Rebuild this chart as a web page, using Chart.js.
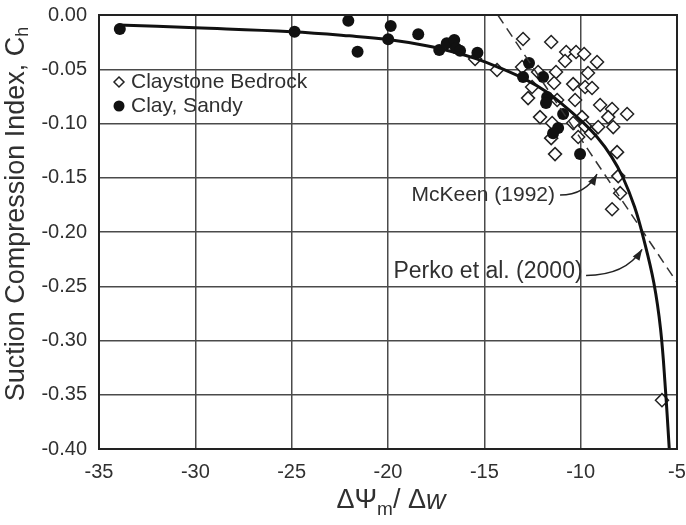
<!DOCTYPE html>
<html>
<head>
<meta charset="utf-8">
<title>Suction Compression Index</title>
<script src="https://cdn.jsdelivr.net/npm/chart.js@4.4.0/dist/chart.umd.min.js"></script>
<style>
  body { margin: 0; background: #fff; }
  #wrap { width: 686px; height: 525px; }
</style>
</head>
<body>
<div id="wrap"><canvas id="myChart" width="686" height="525"></canvas></div>
<script>
// Claystone bedrock samples (open diamonds)
var claystoneX = [-15.48, -14.34, -12.99, -11.53, -10.75, -10.24, -9.82, -9.15, -13.04, -12.21,
                  -11.28, -10.81, -9.62, -12.52, -12.73, -11.38, -11.22, -10.39, -10.29, -9.77,
                  -9.41, -8.99, -8.37, -7.59, -8.57, -8.31, -12.11, -9.93, -10.39, -9.77,
                  -9.09, -11.48, -9.46, -10.13, -11.53, -11.33, -8.11, -8.05, -7.95, -8.37, -5.78];
var claystoneY = [-0.0406, -0.0507, -0.0221, -0.0249, -0.0341, -0.0341, -0.036, -0.0434, -0.048, -0.0526,
                  -0.0526, -0.0424, -0.0535, -0.0664, -0.0766, -0.0627, -0.0784, -0.0637, -0.0784, -0.0664,
                  -0.0673, -0.083, -0.0867, -0.0913, -0.0941, -0.1033, -0.0941, -0.0941, -0.0996, -0.1024,
                  -0.1033, -0.0996, -0.1089, -0.1125, -0.1135, -0.1282, -0.1264, -0.1485, -0.1642, -0.179, -0.355];

// Clay, sandy samples (filled circles)
var clayX = [-33.92, -24.85, -22.06, -21.58, -19.86, -19.99, -18.43, -17.34, -16.95, -16.56, -16.47,
             -16.26, -15.36, -12.68, -12.99, -11.95, -11.74, -11.8, -10.91, -11.17, -11.43, -10.03];
var clayY = [-0.0129, -0.0154, -0.0053, -0.0338, -0.0101, -0.0224, -0.0178, -0.0323, -0.0261, -0.0231, -0.0307,
             -0.0329, -0.0348, -0.0443, -0.0572, -0.0572, -0.0756, -0.0812, -0.0913, -0.1042, -0.1089, -0.1282];

// Perko et al. (2000) fitted curve
var perkoX = [-34, -30, -25, -22, -20, -18, -16.5, -15.4, -14.3, -12.8, -11.8,
              -10.9, -10, -9.15, -8.4, -7.8, -7.2, -6.75, -6.2, -5.85, -5.6, -5.4];
var perkoY = [-0.0092, -0.0118, -0.0154, -0.0192, -0.0226, -0.0283, -0.0345, -0.0405, -0.048, -0.06, -0.0705,
              -0.083, -0.097, -0.1125, -0.1305, -0.150, -0.177, -0.205, -0.247, -0.29, -0.345, -0.4];

// McKeen (1992) straight line
var mckeenX = [-14.3, -5];
var mckeenY = [0, -0.2465];

// axis ticks
var xTicks = [-35, -30, -25, -20, -15, -10, -5];
var yTicks = [0, -0.05, -0.1, -0.15, -0.2, -0.25, -0.3, -0.35, -0.4];

function pairs(xs, ys) {
    return xs.map(function (x, i) { return { x: x, y: ys[i] }; });
}

var FONT = '"Liberation Sans", Arial, sans-serif';
var TEXT = '#303030';

// frame, legend, callouts and axis titles
var decorations = {
    id: 'decorations',
    afterDraw: function (chart) {
        var ctx = chart.ctx;
        var a = chart.chartArea;
        var xs = chart.scales.x, ys = chart.scales.y;
        function px(x) { return xs.getPixelForValue(x); }
        function py(y) { return ys.getPixelForValue(y); }

        ctx.save();
        ctx.strokeStyle = '#222';
        ctx.lineWidth = 2;
        ctx.strokeRect(a.left, a.top, a.right - a.left, a.bottom - a.top);

        // legend
        ctx.fillStyle = TEXT;
        ctx.font = '21px ' + FONT;
        ctx.textBaseline = 'middle';
        ctx.textAlign = 'left';
        var lx = a.left + 20, ly1 = a.top + 67, ly2 = a.top + 91;
        ctx.beginPath();
        ctx.moveTo(lx, ly1 - 5); ctx.lineTo(lx + 5, ly1); ctx.lineTo(lx, ly1 + 5); ctx.lineTo(lx - 5, ly1); ctx.closePath();
        ctx.lineWidth = 1.5; ctx.strokeStyle = '#222'; ctx.stroke();
        ctx.fillText('Claystone Bedrock', lx + 12, ly1);
        ctx.beginPath(); ctx.arc(lx, ly2, 5.5, 0, Math.PI * 2); ctx.fillStyle = '#111'; ctx.fill();
        ctx.fillStyle = TEXT;
        ctx.fillText('Clay, Sandy', lx + 12, ly2);

        // callouts with curved arrows
        function callout(label, size, tx, ty, sx, sy, cx, cy, ex, ey) {
            ctx.font = size + 'px ' + FONT;
            ctx.fillStyle = TEXT;
            ctx.textAlign = 'right';
            ctx.fillText(label, px(tx), py(ty));
            ctx.beginPath();
            ctx.moveTo(px(sx), py(sy));
            ctx.quadraticCurveTo(px(cx), py(cy), px(ex), py(ey));
            ctx.strokeStyle = '#222'; ctx.lineWidth = 1.5; ctx.stroke();
            var ang = Math.atan2(py(ey) - py(cy), px(ex) - px(cx));
            ctx.save();
            ctx.translate(px(ex), py(ey)); ctx.rotate(ang);
            ctx.beginPath(); ctx.moveTo(0, 0); ctx.lineTo(-11, -4); ctx.lineTo(-11, 4); ctx.closePath();
            ctx.fillStyle = '#222'; ctx.fill();
            ctx.restore();
        }
        callout('McKeen (1992)', 21, -11.33, -0.166, -11.07, -0.166, -9.77, -0.166, -9.15, -0.1467);
        callout('Perko et al. (2000)', 23, -9.9, -0.237, -9.72, -0.240, -7.69, -0.240, -6.81, -0.216);

        // y axis title
        ctx.save();
        ctx.translate(17, 214);
        ctx.rotate(-Math.PI / 2);
        ctx.font = '27px ' + FONT;
        var main = 'Suction Compression Index, C';
        var w1 = ctx.measureText(main).width;
        ctx.font = '18px ' + FONT;
        var w2 = ctx.measureText('h').width;
        var sx0 = -(w1 + w2) / 2;
        ctx.fillStyle = TEXT; ctx.textAlign = 'left'; ctx.textBaseline = 'middle';
        ctx.font = '27px ' + FONT;
        ctx.fillText(main, sx0, 0);
        ctx.font = '18px ' + FONT;
        ctx.fillText('h', sx0 + w1, 6);
        ctx.restore();

        // x axis title
        var parts = [
            { t: '\u0394\u03A8', f: '27px ' + FONT, dy: 0 },
            { t: 'm', f: '19px ' + FONT, dy: 9 },
            { t: '/ \u0394', f: '27px ' + FONT, dy: 0 },
            { t: 'w', f: 'italic 27px ' + FONT, dy: 0 }
        ];
        var total = 0;
        parts.forEach(function (p) { ctx.font = p.f; p.w = ctx.measureText(p.t).width; total += p.w; });
        var cx0 = 391 - total / 2, cy0 = 501;
        ctx.textAlign = 'left'; ctx.textBaseline = 'middle'; ctx.fillStyle = TEXT;
        parts.forEach(function (p) { ctx.font = p.f; ctx.fillText(p.t, cx0, cy0 + p.dy); cx0 += p.w; });
        ctx.restore();
    }
};

var ctx = document.getElementById('myChart').getContext('2d');
var chart = new Chart(ctx, {
    type: 'scatter',
    data: {
        datasets: [
            {
                label: 'Perko et al. (2000)',
                type: 'line',
                data: pairs(perkoX, perkoY),
                borderColor: '#111',
                borderWidth: 3,
                pointRadius: 0,
                tension: 0.4,
                fill: false,
                order: 0
            },
            {
                label: 'McKeen (1992)',
                type: 'line',
                data: pairs(mckeenX, mckeenY),
                borderColor: '#333',
                borderWidth: 1.5,
                borderDash: [10, 6],
                pointRadius: 0,
                fill: false,
                order: 1
            },
            {
                label: 'Clay, Sandy',
                data: pairs(clayX, clayY),
                pointStyle: 'circle',
                pointRadius: 6,
                backgroundColor: '#111',
                borderColor: '#111',
                borderWidth: 0,
                order: 2
            },
            {
                label: 'Claystone Bedrock',
                data: pairs(claystoneX, claystoneY),
                pointStyle: 'rectRot',
                pointRadius: 6.5,
                backgroundColor: '#fff',
                borderColor: '#222',
                borderWidth: 1.5,
                order: 3
            }
        ]
    },
    options: {
        responsive: false,
        animation: false,
        layout: { padding: { left: 0, right: 9, top: 15, bottom: 0 } },
        plugins: { legend: { display: false }, tooltip: { enabled: false } },
        scales: {
            x: {
                type: 'linear',
                min: xTicks[0], max: xTicks[xTicks.length - 1],
                afterBuildTicks: function (s) { s.ticks = xTicks.map(function (v) { return { value: v }; }); },
                afterFit: function (s) { s.height = 76; s.paddingLeft = 0; s.paddingRight = 0; },
                grid: { color: '#4a4a4a', lineWidth: 1.5, drawTicks: false },
                border: { display: false },
                ticks: {
                    padding: 11,
                    color: TEXT,
                    font: { family: FONT, size: 20 },
                    callback: function (v) { return String(v); }
                }
            },
            y: {
                type: 'linear',
                min: yTicks[yTicks.length - 1], max: yTicks[0],
                afterBuildTicks: function (s) { s.ticks = yTicks.map(function (v) { return { value: v }; }); },
                afterFit: function (s) { s.width = 99; s.paddingTop = 0; s.paddingBottom = 0; },
                grid: { color: '#4a4a4a', lineWidth: 1.5, drawTicks: false },
                border: { display: false },
                ticks: {
                    padding: 12,
                    color: TEXT,
                    font: { family: FONT, size: 20 },
                    callback: function (v) { return Math.abs(v) < 1e-9 ? '0.00' : v.toFixed(2); }
                }
            }
        }
    },
    plugins: [decorations]
});
</script>
</body>
</html>
